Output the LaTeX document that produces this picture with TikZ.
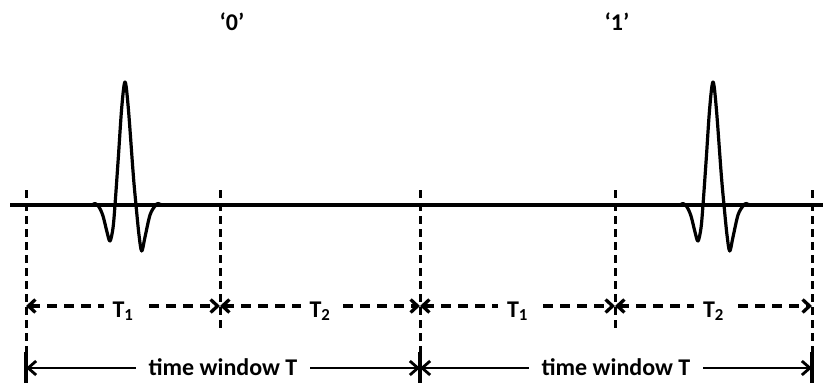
\documentclass[tikz,border=0pt]{standalone}
\usepackage{fontspec}
\setmainfont{Carlito}
\usetikzlibrary{arrows.meta}
\begin{document}
\begin{tikzpicture}[x=1pt,y=-1pt,
  wave/.style={line width=3.2pt, line join=round, line cap=round},
  guide/.style={line width=3pt, dash pattern=on 8pt off 5pt},
  dimline/.style={line width=3.3pt, dash pattern=on 10pt off 7pt, <->, >={Straight Barb[length=7pt,width=13pt]}},
  winline/.style={line width=2.8pt, <->, >={Straight Barb[length=8pt,width=14pt]}},
  bar/.style={line width=3.6pt},
  tlbl/.style={font=\bfseries\fontsize{24}{28}\selectfont, fill=white, inner xsep=9pt, inner ysep=1pt, anchor=base, yshift=-11pt},
  wlbl/.style={font=\bfseries\fontsize{24}{28}\selectfont, fill=white, inner xsep=13pt, inner ysep=1pt, anchor=base, yshift=-7pt},
  bitlbl/.style={font=\bfseries\fontsize{24}{28}\selectfont, inner sep=0pt},
  pulse/.pic={\draw[wave] plot[smooth,tension=0.55] coordinates {(-40,0) (-33,0) (-30,-1.5) (-26,2) (-22,11) (-18,27) (-15,36) (-12,23) (-10,0) (-6.7,-47) (-3.3,-97) (0,-123) (3.3,-97) (8.3,-30) (11,0) (14,30) (16.7,46) (20,32) (25,10) (30,1) (33,-1.5) (37,0) (45,0)};}
]
\useasboundingbox (0,0) rectangle (823,383);

% guide positions
\foreach \n/\x in {a/26,b/220,c/420,d/615,e/812}{
  \coordinate (top\n) at (\x,190);
  \coordinate (dim\n) at (\x,306);
  \coordinate (win\n) at (\x,368);
}
\foreach \n/\x in {b/220,d/615}{
  \coordinate (bot\n) at (\x,332);
}
\foreach \n/\x in {a/26,c/420,e/812}{
  \coordinate (bot\n) at (\x,352);
  \coordinate (end\n) at (\x,383);
}

% dashed guides and solid bars
\foreach \n in {a,b,c,d,e}{ \draw[guide] (top\n) -- (bot\n); }
\foreach \n in {a,c,e}{ \draw[bar] (bot\n) -- (end\n); }

% signal
\coordinate (sigL) at (10,205);
\coordinate (sigR) at (823,205);
\draw[wave, line cap=butt] (sigL) -- (sigR);
\pic at (125,205) {pulse};
\pic at (713,205) {pulse};

% bit labels
\node[bitlbl] (bit0) at (232,22) {‘0’};
\node[bitlbl] (bit1) at (617,22) {‘1’};

% sub-interval dimensions
\draw[dimline] (dima) -- node[tlbl] (t1a) {T\textsubscript{1}} (dimb);
\draw[dimline] (dimb) -- node[tlbl] (t2a) {T\textsubscript{2}} (dimc);
\draw[dimline] (dimc) -- node[tlbl] (t1b) {T\textsubscript{1}} (dimd);
\draw[dimline] (dimd) -- node[tlbl] (t2b) {T\textsubscript{2}} (dime);

% time windows
\draw[winline] (wina) -- node[wlbl] (tw1) {time window T} (winc);
\draw[winline] (winc) -- node[wlbl] (tw2) {time window T} (wine);
\end{tikzpicture}
\end{document}
